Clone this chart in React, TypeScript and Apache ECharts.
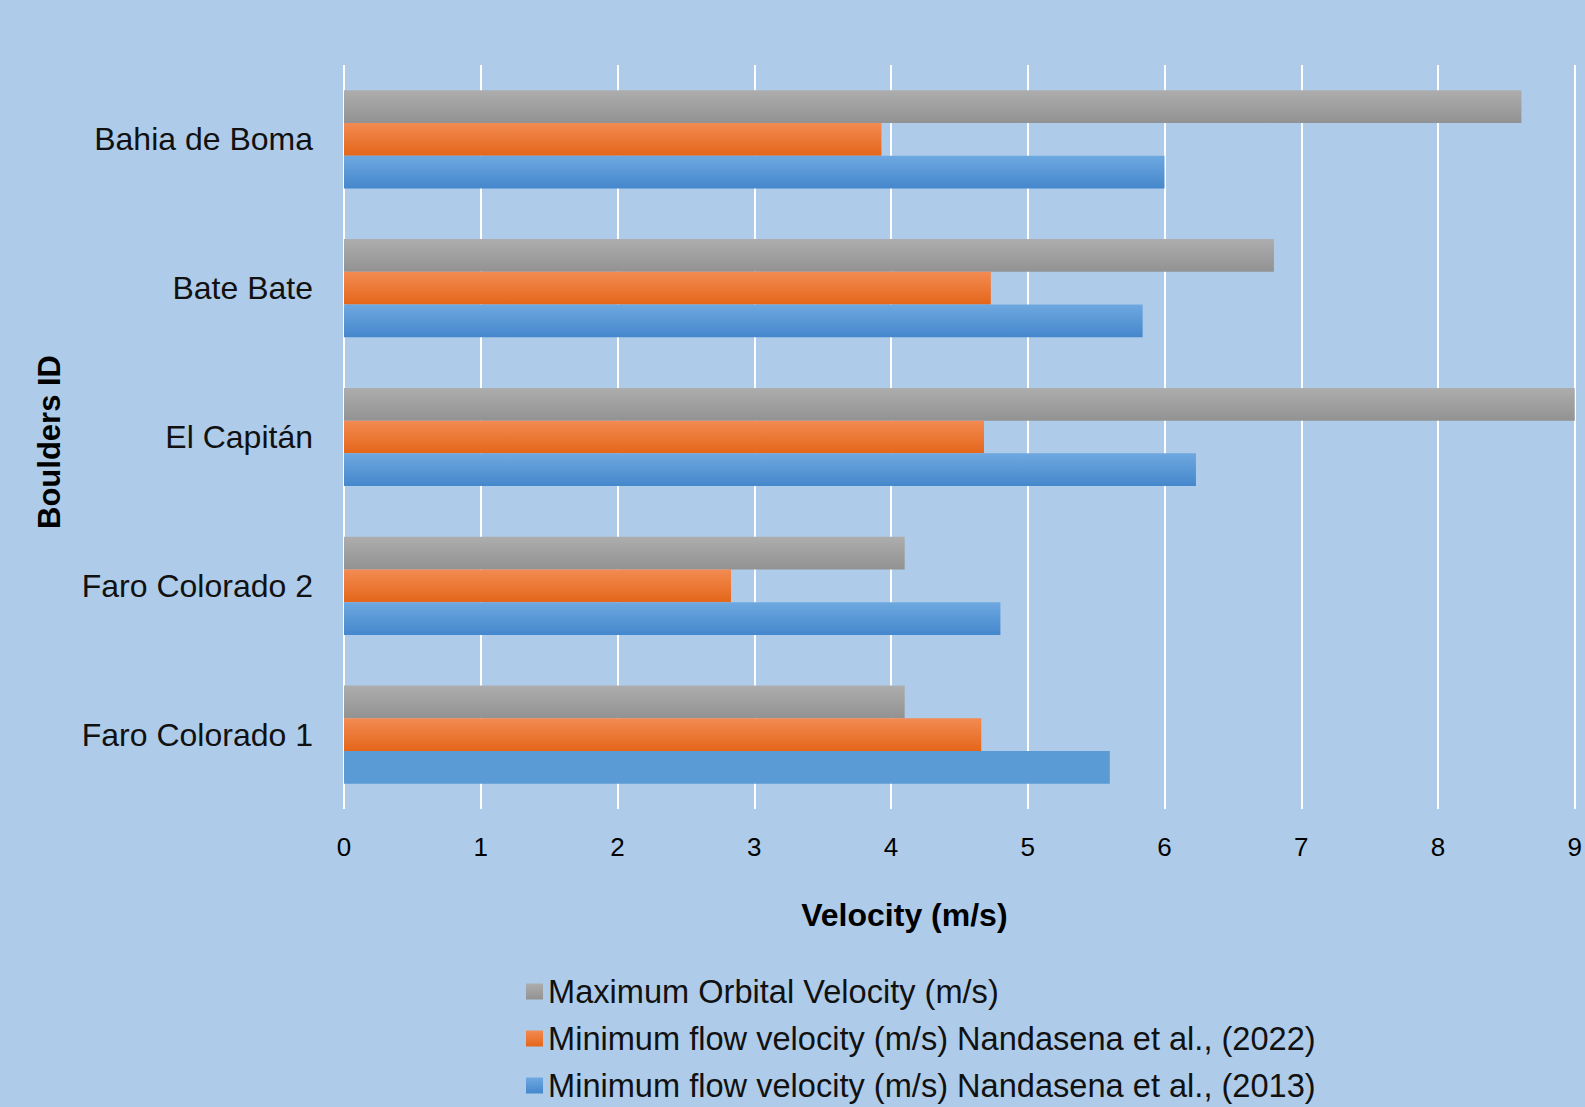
import React, { useEffect, useRef } from "react";
import * as echarts from "echarts";

// Boulder sites, listed bottom to top as they appear on the category axis
const boulders = ["Faro Colorado 1", "Faro Colorado 2", "El Capitán", "Bate Bate", "Bahia de Boma"];

// Velocities (m/s) per boulder, same order as `boulders`
const maxOrbitalVelocity = [4.1, 4.1, 9.0, 6.8, 8.61];
const nandasena2022 = [4.66, 2.83, 4.68, 4.73, 3.93];
const nandasena2013 = [5.6, 4.8, 6.23, 5.84, 6.0];

const seriesNames = [
  "Maximum Orbital Velocity (m/s)",
  "Minimum flow velocity (m/s) Nandasena et al., (2022)",
  "Minimum flow velocity (m/s) Nandasena et al., (2013)",
];

const FONT = "'Liberation Sans', Arial, sans-serif";

const grad = (top: string, bottom: string) =>
  new echarts.graphic.LinearGradient(0, 0, 0, 1, [
    { offset: 0, color: top },
    { offset: 1, color: bottom },
  ]);

export default function App() {
  const ref = useRef<HTMLDivElement>(null);

  useEffect(() => {
    if (!ref.current) return;
    const chart = echarts.init(ref.current, undefined, { renderer: "svg" });

    const grayFill = grad("#adadad", "#929292");
    const orangeFill = grad("#f38b52", "#e4661a");
    const blueFill = grad("#6ea8e0", "#4587cc");

    const barCommon = { type: "bar", barGap: "0%", barCategoryGap: "34%" };

    chart.setOption({
      animation: false,
      backgroundColor: "#aecce9",
      textStyle: { fontFamily: FONT },
      grid: { left: 344, right: 8, top: 65, bottom: 298, containLabel: false },
      legend: {
        orient: "vertical",
        left: 526,
        top: 975,
        padding: 0,
        itemWidth: 17,
        itemHeight: 16,
        itemGap: 14,
        icon: "rect",
        data: seriesNames,
        textStyle: { fontSize: 32.6, color: "#111", fontFamily: FONT },
      },
      xAxis: {
        type: "value",
        min: 0,
        max: 9,
        interval: 1,
        name: "Velocity (m/s)",
        nameLocation: "middle",
        nameGap: 90,
        nameTextStyle: {
          fontSize: 32,
          fontWeight: "bold",
          color: "#000",
          fontFamily: FONT,
          padding: [0, 110, 0, 0],
        },
        axisLine: { show: false },
        axisTick: { show: false },
        axisLabel: { fontSize: 26, color: "#000", margin: 25, fontFamily: FONT },
        splitLine: { show: true, lineStyle: { color: "#ffffff", width: 2 } },
      },
      yAxis: {
        type: "category",
        data: boulders,
        name: "Boulders ID",
        nameLocation: "middle",
        nameGap: 279,
        nameRotate: 90,
        nameTextStyle: {
          fontSize: 31,
          fontWeight: "bold",
          color: "#000",
          fontFamily: FONT,
          padding: [0, 10, 0, 0],
        },
        axisLine: { show: false },
        axisTick: { show: false },
        axisLabel: { fontSize: 32, color: "#111", margin: 31, fontFamily: FONT },
        splitLine: { show: false },
      },
      series: [
        {
          ...barCommon,
          name: seriesNames[0],
          itemStyle: { color: grayFill },
          data: maxOrbitalVelocity,
        },
        {
          ...barCommon,
          name: seriesNames[1],
          itemStyle: { color: orangeFill },
          data: nandasena2022,
        },
        {
          ...barCommon,
          name: seriesNames[2],
          itemStyle: { color: blueFill },
          data: nandasena2013.map((v, i) =>
            i === 0 ? { value: v, itemStyle: { color: "#5b9bd5" } } : v
          ),
        },
      ],
    });

    return () => chart.dispose();
  }, []);

  return (
    <div
      ref={ref}
      style={{ position: "fixed", left: 0, top: 0, width: 1585, height: 1107 }}
    />
  );
}
